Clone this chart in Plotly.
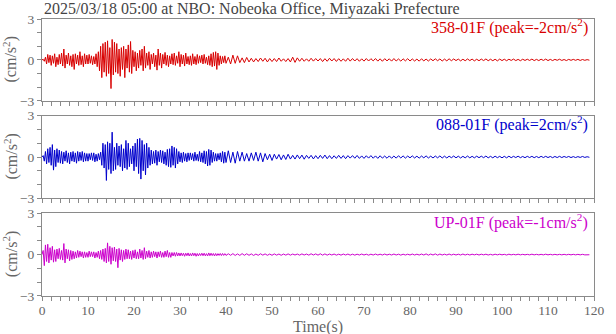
import numpy as np
import plotly.graph_objects as go

title_text = "2025/03/18 05:00 at NBO: Nobeoka Office, Miyazaki Prefecture"
labels = ["358-01F (peak=-2cm/s<sup>2</sup>)", "088-01F (peak=2cm/s<sup>2</sup>)", "UP-01F (peak=-1cm/s<sup>2</sup>)"]
colors = ["#d80000", "#0000cc", "#cc00cc"]

dt_early = 0.25   # s, 0..40 s
t_late0, dt_late = 40.5, 0.5

red_early = [
    0, 0.05, -0.1, 0.2, -0.3, 0.4, -0.2, 0.35, -0.4, 0.3, -0.25, 0.45, -0.5, 0.2, -0.35, 0.4,
    -0.3, 0.5, -0.45, 0.8, -0.6, 0.35, -0.3, 0.5, -0.4, 0.3, -0.5, 0.4, -0.7, 0.45, -0.3, 0.35,
    -0.4, 0.6, -0.35, 0.3, -0.5, 0.45, -0.3, 0.35, -0.3, 0.4, -0.25, 0.3, -0.35, 0.25, -0.3, 0.45,
    -0.5, 0.6, -0.8, 1.0, -1.3, 1.2, -0.9, 1.3, -1.2, 1.4, -1.0, 0.9, -2.1, 1.5, -1.1, 1.3,
    -0.9, 1.2, -1.0, 0.8, -1.2, 0.9, -0.7, 1.0, -1.3, 0.8, -0.6, 1.1, -0.9, 1.35, -1.0, 0.7,
    -0.5, 0.6, -0.8, 0.5, -0.6, 0.7, -0.4, 0.8, -0.8, 1.0, -0.6, 0.5, -0.4, 0.6, -0.7, 0.4,
    -0.3, 0.5, -0.5, 0.35, -0.75, 0.8, -0.4, 0.5, -0.6, 0.4, -0.3, 0.55, -0.4, 0.35, -0.5, 0.3,
    -0.3, 0.45, -0.35, 0.5, -0.4, 0.3, -0.25, 0.6, -0.5, 0.4, -0.3, 0.35, -0.45, 0.5, -0.3, 0.25,
    -0.35, 0.3, -0.4, 0.45, -0.3, 0.25, -0.35, 0.4, -0.25, 0.3, -0.2, 0.35, -0.3, 0.4, -0.25, 0.2,
    -0.35, 0.3, -0.4, 0.45, -0.5, 0.55, -0.45, 0.6, -0.7, 0.5, -0.4, 0.3, -0.3, 0.25, -0.2, 0.3,
    -0.25]
red_late = [
    0.2, -0.3, 0.35, -0.25, 0.3, -0.2, 0.15, -0.2, 0.18, -0.15,
    0.12, -0.15, 0.1, -0.12, 0.14, -0.1, 0.12, -0.15, 0.1, -0.12,
    0.1, -0.12, 0.14, -0.1, 0.08, -0.12, 0.1, -0.15, 0.2, -0.18,
    0.15, -0.1, 0.12, -0.1, 0.08, -0.1, 0.12, -0.09, 0.1, -0.08,
    0.1, -0.12, 0.09, -0.1, 0.12, -0.08, 0.1, -0.11, 0.09, -0.1,
    0.08, -0.1, 0.12, -0.09, 0.1, -0.08, 0.09, -0.1, 0.08, -0.09,
    0.1, -0.08, 0.09, -0.07, 0.1, -0.09, 0.08, -0.1, 0.09, -0.07,
    0.08, -0.09, 0.1, -0.08, 0.07, -0.09, 0.08, -0.07, 0.09, -0.08,
    0.07, -0.08, 0.06, -0.09, 0.08, -0.07, 0.06, -0.08, 0.07, -0.06,
    0.08, -0.06, 0.07, -0.08, 0.06, -0.07, 0.08, -0.06, 0.07, -0.05,
    0.06, -0.07, 0.05, -0.06, 0.07, -0.05, 0.06, -0.07, 0.05, -0.06,
    0.06, -0.05, 0.07, -0.06, 0.05, -0.06, 0.05, -0.07, 0.06, -0.05,
    0.05, -0.06, 0.05, -0.04, 0.06, -0.05, 0.04, -0.06, 0.05, -0.04,
    0.05, -0.04, 0.06, -0.05, 0.04, -0.05, 0.05, -0.04, 0.06, -0.05,
    0.04, -0.05, 0.04, -0.03, 0.05, -0.04, 0.03, -0.05, 0.04, -0.03,
    0.04, -0.03, 0.04, -0.04, 0.03, -0.03, 0.02, -0.02]

blue_early = [
    0, 0.1, -0.3, 0.4, -0.5, 0.6, -0.4, 0.7, -0.6, 0.9, -0.95, 0.5, -0.7, 0.6, -0.4, 0.5,
    -0.45, 0.4, -0.5, 0.35, -0.3, 0.45, -0.4, 0.3, -0.5, 0.35, -0.3, 0.4, -0.35, 0.3, -0.45, 0.4,
    -0.3, 0.35, -0.25, 0.4, -0.35, 0.3, -0.3, 0.25, -0.3, 0.25, -0.2, 0.3, -0.25, 0.3, -0.35, 0.2,
    -0.3, 0.25, -0.2, 0.35, -0.6, 1.0, -0.8, 0.9, -1.7, 1.1, -0.9, 1.0, -1.2, 1.8, -1.0, 0.7,
    -0.9, 1.0, -0.6, 0.8, -0.7, 0.9, -1.0, 0.6, -0.8, 1.2, -0.9, 1.0, -0.7, 0.6, -0.5, 0.8,
    -1.0, 1.0, -0.7, 1.3, -1.2, 1.35, -1.6, 1.2, -1.0, 0.9, -1.3, 1.0, -0.8, 0.7, -0.6, 0.5,
    -0.5, 0.4, -0.45, 0.5, -0.6, 0.4, -0.35, 0.5, -0.4, 0.45, -0.5, 0.35, -0.6, 0.55, -0.7, 0.6,
    -0.75, 0.8, -0.6, 0.7, -0.8, 0.6, -0.5, 0.4, -0.35, 0.3, -0.4, 0.35, -0.3, 0.25, -0.35, 0.3,
    -0.25, 0.3, -0.2, 0.25, -0.3, 0.35, -0.25, 0.2, -0.3, 0.4, -0.35, 0.3, -0.4, 0.45, -0.5, 0.4,
    -0.65, 0.55, -0.6, 0.5, -0.4, 0.35, -0.3, 0.25, -0.3, 0.25, -0.2, 0.3, -0.35, 0.4, -0.45, 0.35,
    -0.4]
blue_late = [
    0.45, -0.4, 0.35, -0.45, 0.4, -0.3, 0.35, -0.3, 0.25, -0.3,
    0.3, -0.25, 0.35, -0.3, 0.3, -0.35, 0.25, -0.2, 0.2, -0.25,
    0.2, -0.15, 0.18, -0.2, 0.15, -0.18, 0.2, -0.15, 0.12, -0.15,
    0.15, -0.12, 0.14, -0.16, 0.12, -0.1, 0.12, -0.14, 0.1, -0.12,
    0.12, -0.1, 0.14, -0.12, 0.1, -0.12, 0.09, -0.1, 0.12, -0.1,
    0.1, -0.12, 0.1, -0.08, 0.1, -0.09, 0.11, -0.1, 0.08, -0.1,
    0.09, -0.08, 0.1, -0.09, 0.08, -0.1, 0.09, -0.08, 0.07, -0.09,
    0.08, -0.09, 0.07, -0.08, 0.09, -0.07, 0.08, -0.08, 0.07, -0.06,
    0.08, -0.07, 0.06, -0.08, 0.07, -0.06, 0.08, -0.07, 0.06, -0.07,
    0.07, -0.06, 0.08, -0.07, 0.06, -0.07, 0.06, -0.05, 0.07, -0.06,
    0.06, -0.07, 0.05, -0.06, 0.07, -0.06, 0.05, -0.06, 0.06, -0.05,
    0.06, -0.05, 0.07, -0.06, 0.05, -0.06, 0.06, -0.05, 0.05, -0.06,
    0.05, -0.06, 0.06, -0.05, 0.05, -0.04, 0.06, -0.05, 0.04, -0.05,
    0.05, -0.04, 0.05, -0.05, 0.04, -0.05, 0.05, -0.04, 0.05, -0.04,
    0.04, -0.05, 0.04, -0.04, 0.05, -0.04, 0.04, -0.03, 0.04, -0.04,
    0.03, -0.04, 0.03, -0.03, 0.04, -0.03, 0.02, -0.02]

up_early = [
    0, 0.3, -0.8, 0.7, -0.5, 0.75, -0.6, 0.5, -0.4, 0.6, -0.55, 0.35, -0.5, 0.4, -0.3, 0.45,
    -0.35, 0.3, -0.4, 0.8, -0.6, 0.4, -0.3, 0.35, -0.45, 0.3, -0.35, 0.25, -0.3, 0.2, -0.25, 0.3,
    -0.2, 0.25, -0.15, 0.2, -0.25, 0.2, -0.2, 0.15, -0.2, 0.25, -0.15, 0.2, -0.15, 0.2, -0.25, 0.15,
    -0.2, 0.25, -0.3, 0.3, -0.35, 0.4, -0.5, 0.45, -0.6, 0.85, -0.5, 0.6, -0.7, 0.5, -0.45, 0.55,
    -0.5, 0.4, -0.95, 0.45, -0.4, 0.35, -0.5, 0.3, -0.35, 0.4, -0.3, 0.35, -0.3, 0.25, -0.35, 0.3,
    -0.25, 0.35, -0.3, 0.2, -0.3, 0.4, -0.25, 0.3, -0.35, 0.5, -0.3, 0.25, -0.2, 0.3, -0.25, 0.2,
    -0.2, 0.25, -0.15, 0.2, -0.25, 0.2, -0.15, 0.25, -0.2, 0.15, -0.2, 0.25, -0.15, 0.3, -0.2, 0.15,
    -0.2, 0.15, -0.1, 0.15, -0.12, 0.15, -0.1, 0.12, -0.1, 0.12, -0.08, 0.1, -0.12, 0.1, -0.08, 0.12,
    -0.1, 0.08, -0.1, 0.12, -0.08, 0.1, -0.12, 0.08, -0.1, 0.08, -0.07, 0.1, -0.08, 0.1, -0.09, 0.07,
    -0.1, 0.12, -0.08, 0.1, -0.07, 0.08, -0.1, 0.08, -0.08, 0.07, -0.06, 0.08, -0.07, 0.08, -0.06, 0.07,
    -0.06]
up_late = [
    0.06, -0.05, 0.07, -0.06, 0.05, -0.06, 0.07, -0.05, 0.06, -0.05,
    0.05, -0.06, 0.04, -0.05, 0.06, -0.04, 0.05, -0.05, 0.04, -0.05,
    0.05, -0.04, 0.04, -0.05, 0.04, -0.04, 0.05, -0.04, 0.04, -0.03,
    0.04, -0.04, 0.05, -0.03, 0.04, -0.04, 0.06, -0.03, 0.05, -0.04,
    0.06, -0.04, 0.05, -0.04, 0.04, -0.03, 0.04, -0.04, 0.03, -0.04,
    0.04, -0.03, 0.04, -0.04, 0.03, -0.04, 0.03, -0.03, 0.04, -0.03,
    0.03, -0.04, 0.03, -0.03, 0.04, -0.03, 0.03, -0.03, 0.04, -0.03,
    0.03, -0.03, 0.04, -0.03, 0.03, -0.04, 0.03, -0.03, 0.03, -0.03,
    0.04, -0.03, 0.03, -0.03, 0.04, -0.03, 0.05, -0.04, 0.04, -0.03,
    0.05, -0.04, 0.04, -0.03, 0.03, -0.03, 0.04, -0.03, 0.03, -0.03,
    0.03, -0.03, 0.04, -0.03, 0.03, -0.03, 0.03, -0.02, 0.03, -0.03,
    0.03, -0.02, 0.03, -0.03, 0.02, -0.03, 0.03, -0.02, 0.03, -0.02,
    0.02, -0.03, 0.03, -0.02, 0.02, -0.02, 0.03, -0.02, 0.02, -0.02,
    0.02, -0.02, 0.03, -0.02, 0.02, -0.02, 0.02, -0.02, 0.03, -0.02,
    0.02, -0.02, 0.02, -0.02, 0.02, -0.02, 0.02, -0.02, 0.02, -0.02,
    0.02, -0.02, 0.02, -0.02, 0.02, -0.02, 0.01, -0.01]

series = [(red_early, red_late), (blue_early, blue_late), (up_early, up_late)]

W, H = 616, 334
L, R, T, B = 42, 12, 15, 38
ph = H - T - B
# panel pixel extents (top, bottom) in page coordinates
panels = [(15, 98), (113, 197), (212, 296)]
FONT = "Liberation Serif, Times New Roman, serif"
AX = "#8a8a8a"
TXT = "#666666"
FS = 16   # text size for titles / labels
TFS = 13.5  # tick label size

fig = go.Figure()
layout = dict(width=W, height=H, margin=dict(l=L, r=R, t=T, b=B),
              paper_bgcolor="white", plot_bgcolor="white", showlegend=False,
              font=dict(family=FONT, size=TFS, color=TXT))
annotations = []
for i, ((early, late), col) in enumerate(zip(series, colors)):
    k = "" if i == 0 else str(i + 1)
    t = np.concatenate([np.arange(len(early)) * dt_early, t_late0 + np.arange(len(late)) * dt_late])
    v = np.array(early + late)
    fig.add_trace(go.Scatter(x=t, y=v, mode="lines", line=dict(color=col, width=1),
                             xaxis="x" + k, yaxis="y" + k, hoverinfo="skip"))
    top, bot = panels[i]
    dom = [(H - B - bot) / ph, (H - B - top) / ph]
    layout["xaxis" + k] = dict(domain=[0, 1], anchor="y" + k, range=[0, 120],
                               showline=True, linecolor=AX, linewidth=1, mirror=True,
                               ticks="outside", ticklen=4, tickcolor=AX, tickvals=list(range(0, 121, 10)),
                               minor=dict(dtick=2, ticks="outside", ticklen=4, tickcolor=AX),
                               showticklabels=(i == 2), showgrid=False, zeroline=False,
                               ticklabelstandoff=-2,
                               tickfont=dict(family=FONT, size=TFS, color=TXT))
    layout["yaxis" + k] = dict(domain=dom, anchor="x" + k, range=[-3, 3],
                               showline=True, linecolor=AX, linewidth=1, mirror=True,
                               ticks="outside", ticklen=4, tickcolor=AX, tickvals=[-3, 0, 3],
                               minor=dict(dtick=1, ticks="outside", ticklen=4, tickcolor=AX),
                               showgrid=False, zeroline=False,
                               tickfont=dict(family=FONT, size=TFS, color=TXT))
    annotations.append(dict(text=labels[i], xref="x" + k + " domain", yref="y" + k + " domain",
                            x=0.992, y=1 - 8 / (bot - top), xanchor="right", yanchor="middle",
                            showarrow=False, font=dict(family=FONT, size=FS, color=col)))
    annotations.append(dict(text="(cm/s<sup>2</sup>)", xref="paper", yref="paper",
                            x=(10 - L) / (W - L - R), y=(H - B - (top + bot) / 2) / ph,
                            xanchor="center", yanchor="middle", textangle=-90, showarrow=False,
                            font=dict(family=FONT, size=FS, color=TXT)))

annotations.append(dict(text=title_text, xref="paper", yref="paper", x=0, y=1 + (T - 5) / ph,
                        xanchor="left", yanchor="middle", showarrow=False,
                        font=dict(family=FONT, size=FS, color="#444444")))
annotations.append(dict(text="Time(s)", xref="paper", yref="paper", x=0.5, y=-(327.5 - (H - B)) / ph,
                        xanchor="center", yanchor="middle", showarrow=False,
                        font=dict(family=FONT, size=FS, color=TXT)))
layout["annotations"] = annotations
fig.update_layout(**layout)
fig.write_html("out.html")
